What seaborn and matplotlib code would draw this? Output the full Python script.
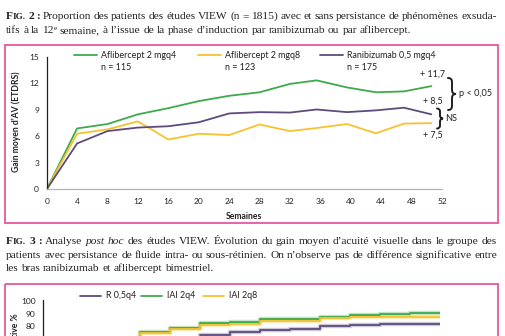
import numpy as np
import pandas as pd
import matplotlib
matplotlib.use("Agg")
import matplotlib.pyplot as plt
import matplotlib.transforms as mtransforms
from matplotlib.path import Path
from matplotlib.patches import PathPatch, Rectangle
from matplotlib.lines import Line2D
import seaborn as sns

# ---------------- Fig. 2 : mean BCVA gain (ETDRS letters) ----------------
weeks = [0, 4, 8, 12, 16, 20, 24, 28, 32, 35.5, 39.5, 43.3, 47, 50.6]
afl_2q4 = [0, 6.9, 7.4, 8.5, 9.2, 10.0, 10.6, 11.0, 11.95, 12.35, 11.55, 11.0, 11.1, 11.7]
afl_2q8 = [0, 6.3, 6.8, 7.7, 5.65, 6.3, 6.15, 7.35, 6.6, 6.95, 7.4, 6.35, 7.45, 7.5]
rbz_05q4 = [0, 5.2, 6.6, 7.0, 7.15, 7.6, 8.6, 8.75, 8.7, 9.05, 8.75, 8.95, 9.25, 8.5]
arm_names = ["Aflibercept 2 mgq4", "Aflibercept 2 mgq8", "Ranibizumab 0,5 mgq4"]
arm_n = ["n = 115", "n = 123", "n = 175"]
fig2_yticks = [0, 3, 6, 9, 12, 15]
fig2_xticks = list(range(0, 53, 4))

# ---------------- Fig. 3 : cumulative proportion (%) ----------------
weeks_r = [20, 24, 28, 32, 36, 40, 44, 48, 52]
r_05q4 = [73.3, 76.0, 77.3, 78.3, 80.1, 81.2, 81.7, 82.2, 82.2]
weeks_iai = [8, 12, 16, 20, 24, 28, 32, 36, 40, 44, 48, 52]
iai_2q4 = [62.0, 75.9, 79.1, 82.5, 83.8, 85.7, 85.7, 87.7, 89.0, 89.8, 90.35, 90.35]
iai_2q8 = [62.0, 74.9, 77.8, 81.2, 82.2, 84.2, 84.2, 86.7, 87.2, 87.7, 87.8, 87.8]
fig3_arms = ["R 0,5q4", "IAI 2q4", "IAI 2q8"]
fig3_yticks = [80, 90, 100]

GREEN, YELLOW, PURPLE = "#3dab4b", "#f8c130", "#5d4b7e"
PINK = "#e6579d"
INK = "#231f20"

sns.set_style("white")
plt.rcParams["font.family"] = ["Lato", "DejaVu Sans"]

W, H = 505, 336
fig = plt.figure(figsize=(W / 100, H / 100), dpi=100)
# pixel coordinates measured from the top-left corner of the page
px = mtransforms.Affine2D().scale(1 / W, -1 / H).translate(0, 1) + fig.transFigure
renderer = fig.canvas.get_renderer()


def add_ax(x0, y_top, x1, y_bot):
    return fig.add_axes([x0 / W, 1 - y_bot / H, (x1 - x0) / W, (y_bot - y_top) / H])


def space_width(size, family):
    a = fig.text(0, 0, "a a", fontsize=size, family=family)
    b = fig.text(0, 0, "aa", fontsize=size, family=family)
    w = a.get_window_extent(renderer).width - b.get_window_extent(renderer).width
    a.remove(); b.remove()
    return w


def set_line(words, y, x0, x1=None, size=8.2, family="Liberation Serif"):
    """Lay out one caption line word by word; justified when x1 is given."""
    placed, widths = [], []
    for word in words:
        pieces, w = [], 0.0
        for text, kw in word:
            kw = dict(kw)
            rise = kw.pop("rise", 0)
            props = dict(fontsize=size, family=family, color=INK)
            props.update(kw)
            t = fig.text(0, y - rise, text, transform=px, va="baseline", ha="left", **props)
            pw = t.get_window_extent(renderer).width
            pieces.append((t, w))
            w += pw
        placed.append(pieces)
        widths.append(w)
    if x1 is None:
        gap = space_width(size, family)
    else:
        gap = (x1 - x0 - sum(widths)) / (len(words) - 1)
    x = x0
    for pieces, w in zip(placed, widths):
        for t, off in pieces:
            t.set_x(x + off)
        x += w + gap


def plain(s, **kw):
    return [[(wd, kw)] for wd in s.split()]


def fig_tag(num, size):
    b = dict(weight="bold")
    return [[("F", b), ("IG.", dict(weight="bold", fontsize=size * 0.8))],
            [(num, b)], [(":", b)]]


def brace(x, y0, y1, w, lw=1.4):
    ym = (y0 + y1) / 2
    h = w / 2
    verts = [(x, y0), (x + h, y0), (x + h, y0 + h),
             (x + h, ym - h),
             (x + h, ym), (x + w, ym),
             (x + h, ym), (x + h, ym + h),
             (x + h, y1 - h),
             (x + h, y1), (x, y1)]
    codes = [Path.MOVETO, Path.CURVE3, Path.CURVE3, Path.LINETO,
             Path.CURVE3, Path.CURVE3, Path.CURVE3, Path.CURVE3,
             Path.LINETO, Path.CURVE3, Path.CURVE3]
    fig.add_artist(PathPatch(Path(verts, codes), transform=px, fill=False,
                             lw=lw, color=INK, capstyle="round"))


# ---------------- captions ----------------
CAP = 8.2
set_line(fig_tag("2", CAP) + plain("Proportion des patients des études VIEW (n = 1815) avec et sans "
                                   "persistance de phénomènes exsuda-"), 19, 6, 497, CAP)
set_line(plain("tifs à la") + [[("12", {}), ("e", dict(fontsize=CAP * 0.65, rise=3))]]
         + plain("semaine, à l’issue de la phase d’induction par ranibizumab ou par aflibercept."),
         33.3, 6, None, CAP)
set_line(fig_tag("3", CAP) + plain("Analyse") + plain("post hoc", style="italic")
         + plain("des études VIEW. Évolution du gain moyen d’acuité visuelle dans le groupe des"),
         244, 6, 497, CAP)
set_line(plain("patients avec persistance de fluide intra- ou sous-rétinien. On n’observe pas de "
               "différence significative entre"), 257.7, 6, 497, CAP)
set_line(plain("les bras ranibizumab et aflibercept bimestriel."), 271, 6, None, CAP)

# frames
fig.add_artist(Rectangle((5, 45), 493, 178, transform=px, fill=False, ec=PINK, lw=1.3))
fig.add_artist(Rectangle((5, 284), 493, 80, transform=px, fill=False, ec=PINK, lw=1.3))

# ---------------- Fig. 2 chart ----------------
ax = add_ax(46.7, 57, 442, 189.3)
palette2 = dict(zip(arm_names, [GREEN, YELLOW, PURPLE]))
df2 = pd.concat([
    pd.DataFrame({"Semaines": weeks, "Gain": vals, "Bras": name})
    for name, vals in zip(arm_names, [afl_2q4, afl_2q8, rbz_05q4])
])
sns.lineplot(data=df2, x="Semaines", y="Gain", hue="Bras", palette=palette2,
             estimator=None, sort=False, legend=False, linewidth=1.3, ax=ax)
ax.set_xlim(0, 52)
ax.set_ylim(0, 15)
ax.set_xticks(fig2_xticks)
ax.set_yticks(fig2_yticks)
ax.set_xticks([52], minor=True)
for s in ["top", "right"]:
    ax.spines[s].set_visible(False)
ax.spines["left"].set_color(INK)
ax.spines["left"].set_linewidth(0.9)
ax.spines["bottom"].set_color("#b5b5b5")
ax.spines["bottom"].set_linewidth(0.9)
ax.tick_params(axis="y", length=2.5, width=0.7, color=INK, pad=3, labelsize=6, labelcolor=INK)
ax.tick_params(axis="x", which="major", length=0, pad=6, labelsize=6, labelcolor=INK)
ax.tick_params(axis="x", which="minor", direction="in", length=2.5, width=0.7, color=INK)
ax.set_xlabel("Semaines", fontsize=6.2, weight="bold", color=INK, labelpad=5)
ax.set_ylabel("")
ax.patch.set_alpha(0)
fig.text(16, 122, "Gain moyen d’AV (ETDRS)", transform=px, rotation=90, ha="center",
         va="center", fontsize=6.2, weight="bold", color=INK)

# legend
for (lx, col), name, n in zip([(74, GREEN), (198, YELLOW), (320, PURPLE)], arm_names, arm_n):
    fig.add_artist(Line2D([lx, lx + 23], [55, 55], transform=px, color=col, lw=1.3))
    fig.text(lx + 27, 55, name, transform=px, va="center", ha="left", fontsize=6.4, color=INK)
    fig.text(lx + 27, 67.5, n, transform=px, va="center", ha="left", fontsize=6.4, color=INK)

# end-point values
for vals, dy in [(afl_2q4, 12), (rbz_05q4, 13), (afl_2q8, -12)]:
    ax.annotate("+ " + f"{vals[-1]:.1f}".replace(".", ","), xy=(weeks[-1], vals[-1]),
                xytext=(1, dy), textcoords="offset pixels", ha="center", va="center",
                fontsize=6.4, color=INK)

brace(448, 78, 110, 8)
fig.text(459, 94, "p < 0,05", transform=px, va="center", ha="left", fontsize=6.6, color=INK)
brace(437, 108.5, 128.5, 6)
fig.text(445, 118.5, "NS", transform=px, va="center", ha="left", fontsize=6.6, color=INK)

# ---------------- Fig. 3 chart ----------------
ax3 = add_ax(43.3, 299.7, 440, 377.5)
palette3 = dict(zip(fig3_arms, [PURPLE, GREEN, YELLOW]))
df3 = pd.concat([
    pd.DataFrame({"Semaine": wk, "Pct": vals, "Bras": name})
    for name, wk, vals in zip(fig3_arms, [weeks_r, weeks_iai, weeks_iai],
                              [r_05q4, iai_2q4, iai_2q8])
])
sns.lineplot(data=df3, x="Semaine", y="Pct", hue="Bras", palette=palette3, estimator=None,
             sort=False, legend=False, linewidth=3.2, alpha=0.3, drawstyle="steps-post", ax=ax3)
sns.lineplot(data=df3, x="Semaine", y="Pct", hue="Bras", palette=palette3, estimator=None,
             sort=False, legend=False, linewidth=1.3, drawstyle="steps-post", ax=ax3)
ax3.set_xlim(-0.9, 52)
ax3.set_ylim(40, 101)
ax3.set_yticks(fig3_yticks)
ax3.set_xticks([])
for s in ["top", "right", "bottom"]:
    ax3.spines[s].set_visible(False)
ax3.spines["left"].set_color(INK)
ax3.spines["left"].set_linewidth(0.9)
ax3.tick_params(axis="y", length=2.5, width=0.7, color=INK, pad=3, labelsize=6, labelcolor=INK)
ax3.set_xlabel("")
ax3.set_ylabel("")
ax3.patch.set_alpha(0)
fig.text(16, 313, "Proportion cumulative %", transform=px, rotation=90, ha="center",
         va="top", fontsize=6.2, weight="bold", color=INK)

for (lx, col), name in zip([(80, PURPLE), (141, GREEN), (203, YELLOW)], fig3_arms):
    fig.add_artist(Line2D([lx, lx + 21], [296, 296], transform=px, color=col, lw=1.3))
    fig.text(lx + 26, 295, name, transform=px, va="center", ha="left", fontsize=6.4, color=INK)

fig.savefig("out.png", dpi=100, facecolor="white")
